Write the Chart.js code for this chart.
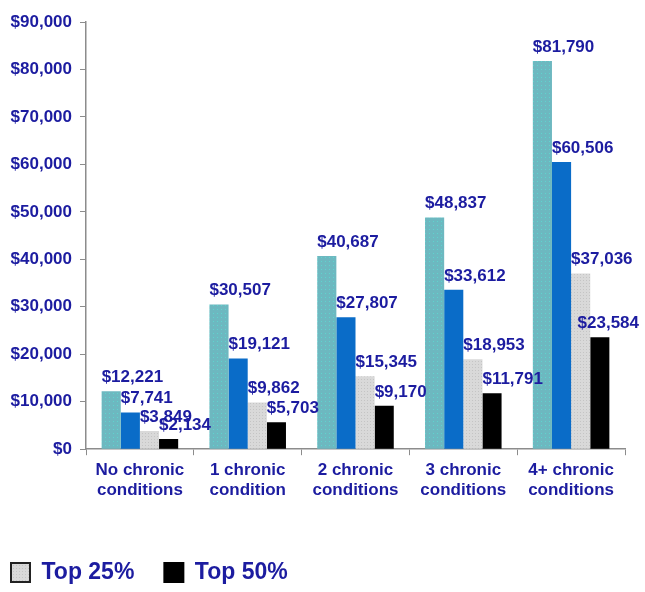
<!DOCTYPE html>
<html>
<head>
<meta charset="utf-8">
<script src="https://cdn.jsdelivr.net/npm/chart.js@4/dist/chart.umd.min.js"></script>
<style>
    html, body { margin: 0; padding: 0; background: #fff; }
    #wrap { width: 645px; height: 592px; position: relative; }
</style>
</head>
<body>
<div id="wrap"><canvas id="costChart"></canvas></div>
<script>
const categories = [
    ['No chronic', 'conditions'],
    ['1 chronic', 'condition'],
    ['2 chronic', 'conditions'],
    ['3 chronic', 'conditions'],
    ['4+ chronic', 'conditions']
];
const top5Values = [12221, 30507, 40687, 48837, 81790];
const top10Values = [7741, 19121, 27807, 33612, 60506];
const top25Values = [3849, 9862, 15345, 18953, 37036];
const top50Values = [2134, 5703, 9170, 11791, 23584];
const seriesNames = ['Top 5%', 'Top 10%', 'Top 25%', 'Top 50%'];
const legendShown = ['Top 25%', 'Top 50%'];

const textBlue = '#1c1ca0';
const axisGray = '#8c8c8c';
const fontFamily = '"Liberation Sans", Arial, sans-serif';

function dotted(base, dot, step) {
    const c = document.createElement('canvas');
    c.width = step;
    c.height = step;
    const g = c.getContext('2d');
    g.fillStyle = base;
    g.fillRect(0, 0, step, step);
    g.fillStyle = dot;
    g.fillRect(1, 1, 1, 1);
    return g.createPattern(c, 'repeat');
}

// bar values written above each bar, starting at its left edge (kept inside the canvas)
const valueLabels = {
    id: 'valueLabels',
    afterDatasetsDraw(chart) {
        const ctx = chart.ctx;
        ctx.save();
        ctx.font = 'bold 17px ' + fontFamily;
        ctx.fillStyle = textBlue;
        ctx.textAlign = 'left';
        ctx.textBaseline = 'alphabetic';
        chart.data.datasets.forEach((ds, i) => {
            chart.getDatasetMeta(i).data.forEach((bar, j) => {
                const txt = '$' + ds.data[j].toLocaleString('en-US');
                const w = ctx.measureText(txt).width;
                const x = Math.min(bar.x - bar.width / 2, chart.width - w - 6);
                ctx.fillText(txt, x, bar.y - 9);
            });
        });
        ctx.restore();
    }
};

// nudge the legend to the lower left corner
const legendShift = {
    id: 'legendShift',
    afterLayout(chart) {
        const lg = chart.legend;
        if (!lg) return;
        const dx = -19, dy = 25;
        lg.left += dx;
        lg.right += dx;
        lg.top += dy;
        lg.bottom += dy;
    }
};

const data = {
    labels: categories,
    datasets: [
        { label: seriesNames[0], data: top5Values, backgroundColor: dotted('#6db8c0', '#5fd4cf', 4) },
        { label: seriesNames[1], data: top10Values, backgroundColor: '#0a6cc8' },
        { label: seriesNames[2], data: top25Values, backgroundColor: dotted('#d9d9d9', '#c4c4c4', 3) },
        { label: seriesNames[3], data: top50Values, backgroundColor: '#000000' }
    ]
};

new Chart(document.getElementById('costChart'), {
    type: 'bar',
    data: data,
    plugins: [valueLabels, legendShift],
    options: {
        responsive: true,
        maintainAspectRatio: false,
        animation: false,
        datasets: {
            bar: { categoryPercentage: 0.71, barPercentage: 1.0 }
        },
        layout: {
            padding: { top: 22, right: 20, left: 0, bottom: 23 }
        },
        scales: {
            x: {
                offset: true,
                grid: {
                    display: true,
                    offset: true,
                    drawOnChartArea: false,
                    drawTicks: true,
                    tickLength: 6,
                    color: axisGray
                },
                border: { color: axisGray, width: 1.5 },
                ticks: {
                    color: textBlue,
                    font: { family: fontFamily, size: 17, weight: 'bold', lineHeight: 1.2 },
                    padding: 5,
                    maxRotation: 0
                }
            },
            y: {
                min: 0,
                max: 90000,
                afterFit(scale) { scale.width = 86; },
                grid: {
                    display: true,
                    drawOnChartArea: false,
                    drawTicks: true,
                    tickLength: 6,
                    color: axisGray
                },
                border: { color: axisGray, width: 1.5 },
                ticks: {
                    stepSize: 10000,
                    color: textBlue,
                    font: { family: fontFamily, size: 17, weight: 'bold' },
                    padding: 8,
                    callback: value => '$' + value.toLocaleString('en-US')
                }
            }
        },
        plugins: {
            tooltip: { enabled: false },
            legend: {
                position: 'bottom',
                align: 'start',
                labels: {
                    filter: item => legendShown.includes(item.text),
                    color: textBlue,
                    font: { family: fontFamily, size: 23, weight: 'bold' },
                    boxWidth: 19,
                    boxHeight: 19,
                    padding: 30,
                    generateLabels(chart) {
                        return Chart.defaults.plugins.legend.labels.generateLabels(chart).map(item => {
                            item.strokeStyle = item.text === 'Top 25%' ? '#222' : '#000';
                            item.lineWidth = 2;
                            return item;
                        });
                    }
                }
            }
        }
    }
});
</script>
</body>
</html>
